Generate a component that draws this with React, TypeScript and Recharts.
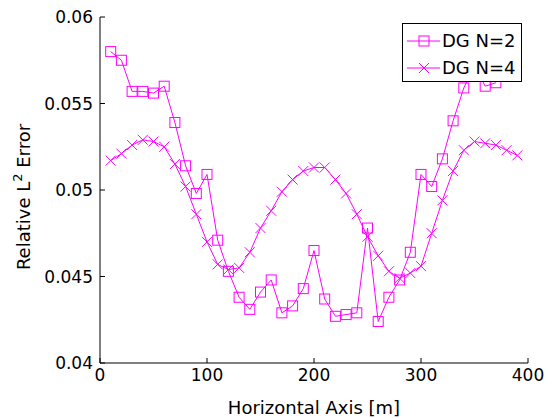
import React from 'react';
import { LineChart, Line, XAxis, YAxis, Legend, Label } from 'recharts';

// horizontal positions [m]
const xPositions = [
  10, 20, 30, 40, 50, 60, 70, 80, 90, 100, 110, 120, 130, 140, 150, 160, 170, 180, 190, 200,
  210, 220, 230, 240, 250, 260, 270, 280, 290, 300, 310, 320, 330, 340, 350, 360, 370, 380, 390,
];

// DG N=2 relative L2 error (350 sits behind the legend; 380/390 not visible)
const errorN2 = [
  0.058, 0.0575, 0.0557, 0.0557, 0.0556, 0.056, 0.0539, 0.0514, 0.0498, 0.0509,
  0.0471, 0.0453, 0.0438, 0.0431, 0.0441, 0.0448, 0.0429, 0.0433, 0.0443, 0.0465,
  0.0437, 0.0427, 0.0428, 0.0429, 0.0478, 0.0424, 0.0438, 0.0448, 0.0464, 0.0509,
  0.0502, 0.0518, 0.054, 0.0559, 0.0572, 0.056, 0.0562, null, null,
];

// DG N=4 relative L2 error
const errorN4 = [
  0.0517, 0.0521, 0.0526, 0.0529, 0.0528, 0.0525, 0.0515, 0.0502, 0.0486, 0.047,
  0.0457, 0.0454, 0.0455, 0.0464, 0.0478, 0.0488, 0.0499, 0.0506, 0.0511, 0.0513,
  0.0513, 0.0506, 0.0498, 0.0486, 0.0473, 0.0462, 0.0453, 0.0449, 0.0452, 0.0456,
  0.0475, 0.0494, 0.0511, 0.0523, 0.0528, 0.0527, 0.0526, 0.0523, 0.052,
];

const xTicks = [0, 100, 200, 300, 400];
const yTicks = [0.04, 0.045, 0.05, 0.055, 0.06];
const yTickLabels = ['0.04', '0.045', '0.05', '0.055', '0.06'];

const data = xPositions.map((x, i) => ({ x, n2: errorN2[i], n4: errorN4[i] }));

const MAGENTA = '#ff00ff';
const FONT = '"DejaVu Sans", Arial, sans-serif';
const TICK_LEN = 5;
const X_GAP = 5;
const Y_GAP = 7;

const SquareDot = (props: any) => {
  const { cx, cy, value } = props;
  if (cx == null || cy == null || value == null) return null;
  return <rect x={cx - 5} y={cy - 5} width={10} height={10} fill="none" stroke={MAGENTA} strokeWidth={1} />;
};

const CrossDot = (props: any) => {
  const { cx, cy } = props;
  if (cx == null || cy == null) return null;
  return (
    <g stroke={MAGENTA} strokeWidth={1}>
      <line x1={cx - 5} y1={cy - 5} x2={cx + 5} y2={cy + 5} />
      <line x1={cx - 5} y1={cy + 5} x2={cx + 5} y2={cy - 5} />
    </g>
  );
};

const XTick = (props: any) => {
  const { x, y, payload } = props;
  const axisY = y - X_GAP;
  return (
    <g>
      <line x1={x} y1={axisY} x2={x} y2={axisY - TICK_LEN} stroke="#000" />
      <text x={x} y={y} dy="0.75em" textAnchor="middle" fontSize={17} fontFamily={FONT} fill="#000">
        {payload.value}
      </text>
    </g>
  );
};

const YTick = (props: any) => {
  const { x, y, payload, index } = props;
  const axisX = x + Y_GAP;
  return (
    <g>
      <line x1={axisX} y1={y} x2={axisX + TICK_LEN} y2={y} stroke="#000" />
      <text x={x} y={y} dy="0.36em" textAnchor="end" fontSize={17} fontFamily={FONT} fill="#000">
        {yTickLabels[index] ?? payload.value}
      </text>
    </g>
  );
};

const YLabel = (props: any) => {
  const vb = props.viewBox || { x: 0, y: 17, width: 100, height: 346 };
  const cx = 30;
  const cy = vb.y + vb.height / 2 + 7;
  return (
    <text
      x={cx}
      y={cy}
      transform={`rotate(-90, ${cx}, ${cy})`}
      textAnchor="middle"
      fontSize={18}
      fontFamily={FONT}
      fill="#000"
    >
      Relative L
      <tspan fontSize={13} dy={-8}>2</tspan>
      <tspan dy={8}> Error</tspan>
    </text>
  );
};

const LegendBox = () => (
  <div
    style={{
      width: 118,
      height: 57,
      background: '#fff',
      border: '1px solid #000',
      fontFamily: FONT,
      fontSize: 18,
      color: '#000',
      position: 'relative',
    }}
  >
    {[
      { label: 'DG N=2', marker: 'square', top: 17 },
      { label: 'DG N=4', marker: 'cross', top: 44 },
    ].map((item) => (
      <div key={item.label} style={{ position: 'absolute', left: 0, top: item.top - 12, height: 24, width: 118 }}>
        <svg width={38} height={24} style={{ position: 'absolute', left: 0, top: 0 }}>
          <line x1={4} y1={12} x2={37} y2={12} stroke={MAGENTA} />
          {item.marker === 'square' ? (
            <rect x={16} y={7} width={10} height={10} fill="none" stroke={MAGENTA} />
          ) : (
            <g stroke={MAGENTA}>
              <line x1={16} y1={7} x2={26} y2={17} />
              <line x1={16} y1={17} x2={26} y2={7} />
            </g>
          )}
        </svg>
        <span style={{ position: 'absolute', left: 39, top: 0, lineHeight: '24px', whiteSpace: 'nowrap' }}>
          {item.label}
        </span>
      </div>
    ))}
  </div>
);

export default function App() {
  return (
    <div style={{ position: 'absolute', left: 0, top: 0, width: 552, height: 419, background: '#fff' }}>
      <LineChart width={552} height={419} data={data} margin={{ top: 17, right: 24, bottom: 0, left: 0 }}>
        <XAxis
          dataKey="x"
          type="number"
          domain={[0, 400]}
          ticks={xTicks}
          height={56}
          stroke="#000"
          tickLine={false}
          tickSize={0}
          tickMargin={X_GAP}
          tick={<XTick />}
          interval={0}
        >
          <Label
            value="Horizontal Axis [m]"
            position="insideBottom"
            offset={5}
            style={{ fontSize: 18, fontFamily: FONT, fill: '#000' }}
          />
        </XAxis>
        <YAxis
          type="number"
          domain={[0.04, 0.06]}
          ticks={yTicks}
          width={100}
          stroke="#000"
          tickLine={false}
          tickSize={0}
          tickMargin={Y_GAP}
          tick={<YTick />}
          interval={0}
          allowDataOverflow
        >
          <Label content={<YLabel />} />
        </YAxis>
        <Line
          type="linear"
          dataKey="n2"
          name="DG N=2"
          stroke={MAGENTA}
          strokeWidth={1}
          dot={<SquareDot />}
          isAnimationActive={false}
        />
        <Line
          type="linear"
          dataKey="n4"
          name="DG N=4"
          stroke={MAGENTA}
          strokeWidth={1}
          dot={<CrossDot />}
          isAnimationActive={false}
        />
        <Legend
          layout="vertical"
          align="center"
          verticalAlign="middle"
          content={<LegendBox />}
          wrapperStyle={{ left: 402, top: 23, width: 120, height: 59, bottom: 'auto', right: 'auto' }}
        />
      </LineChart>
    </div>
  );
}
